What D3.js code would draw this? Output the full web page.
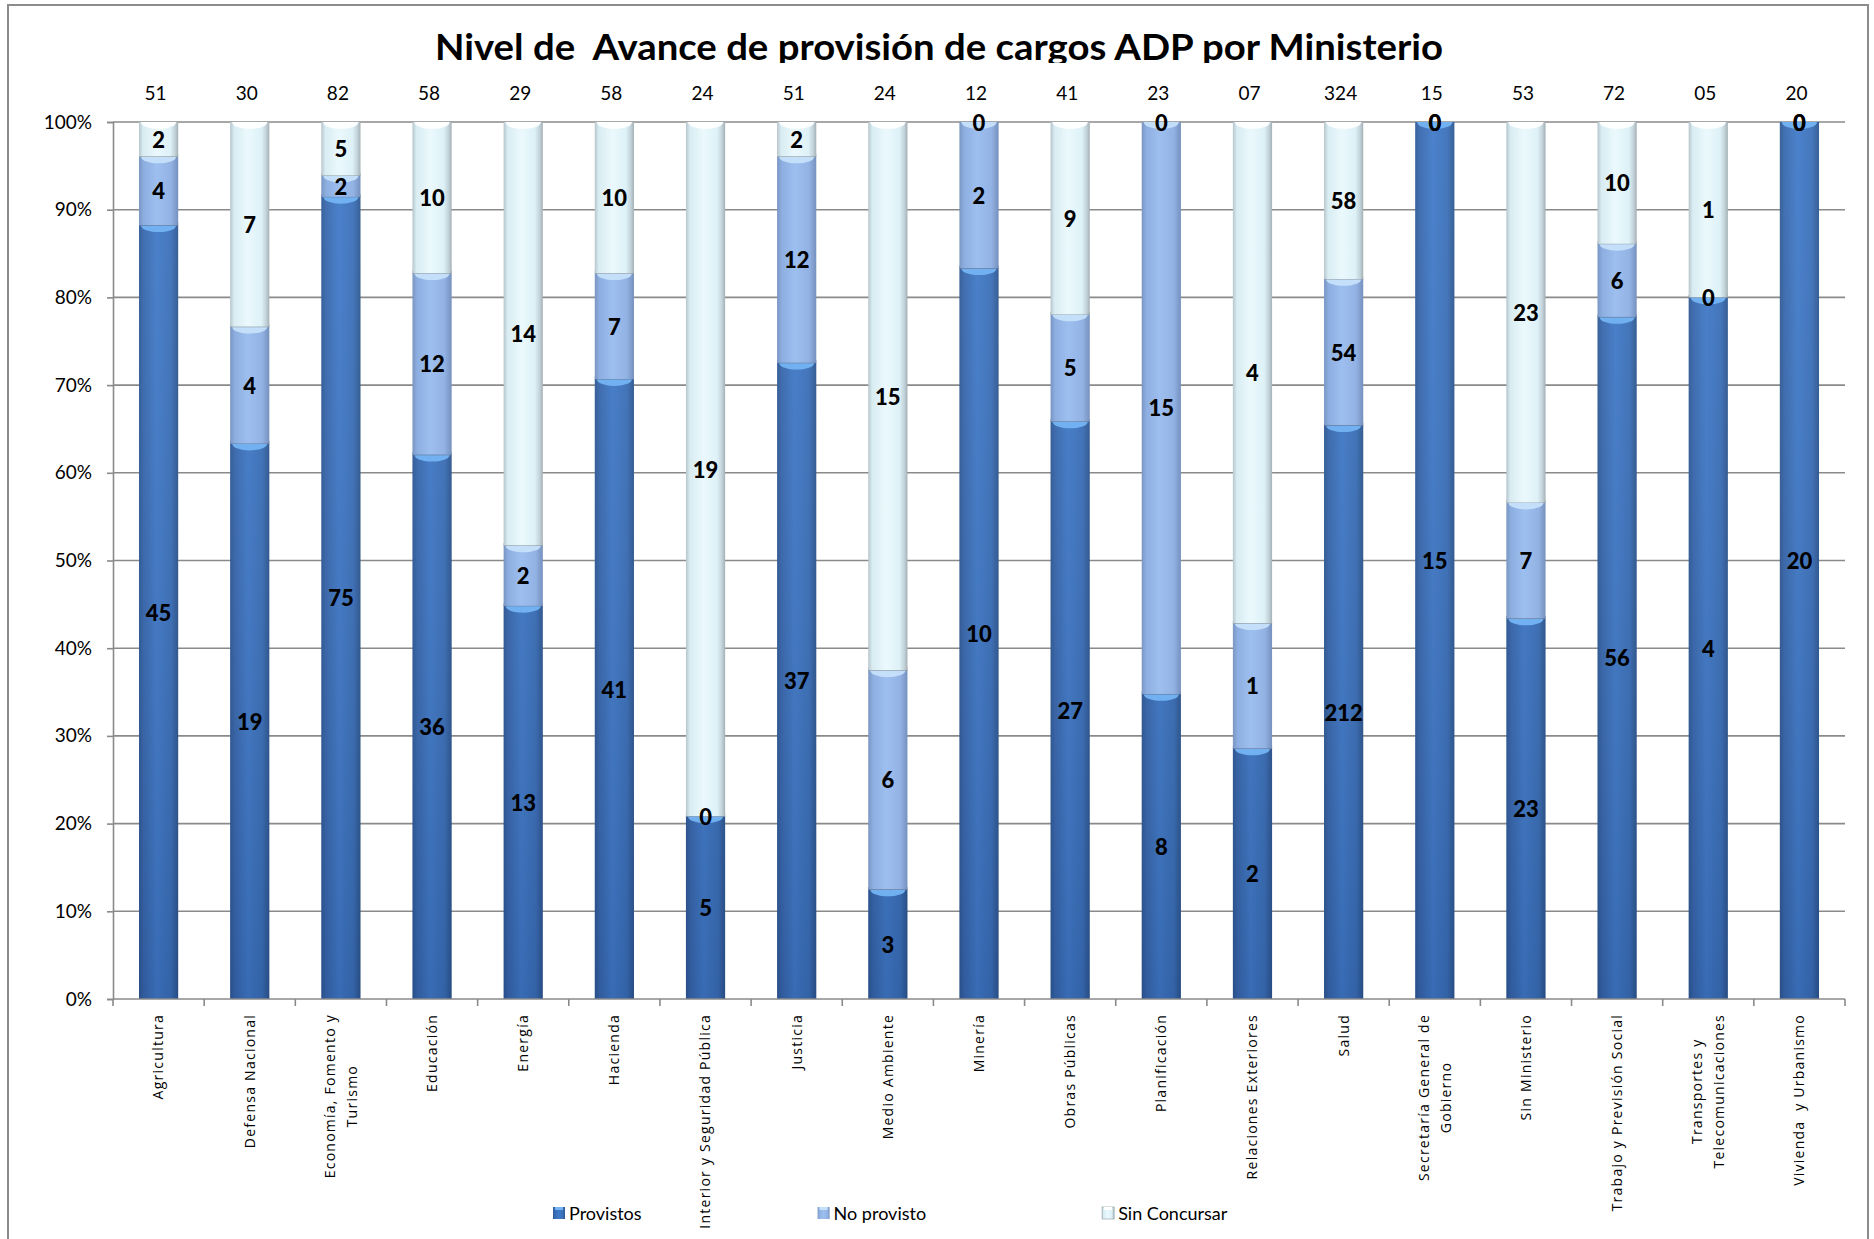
<!DOCTYPE html>
<html>
<head>
<meta charset="utf-8">
<script src="https://cdn.jsdelivr.net/npm/d3@7"></script>
<style>
  html, body { margin: 0; padding: 0; background: #fff; }
  svg text { white-space: pre; }
</style>
</head>
<body>
<svg id="chart" width="1874" height="1239"></svg>
<script>
// ---------- data ----------
const title = "Nivel de  Avance de provisión de cargos ADP por Ministerio";
const categories = [
  "Agricultura", "Defensa Nacional", "Economía, Fomento y\nTurismo", "Educación",
  "Energía", "Hacienda", "Interior y Seguridad Pública", "Justicia", "Medio Ambiente",
  "Minería", "Obras Públicas", "Planificación", "Relaciones Exteriores", "Salud",
  "Secretaría General de\nGobierno", "Sin Ministerio", "Trabajo y Previsión Social",
  "Transportes y\nTelecomunicaciones", "Vivienda  y Urbanismo"
];
const seriesNames = ["Provistos", "No provisto", "Sin Concursar"];
const provistos    = [45, 19, 75, 36, 13, 41, 5, 37, 3, 10, 27, 8, 2, 212, 15, 23, 56, 4, 20];
const noProvisto   = [4, 4, 2, 12, 2, 7, 0, 12, 6, 2, 5, 15, 1, 54, 0, 7, 6, 0, 0];
const sinConcursar = [2, 7, 5, 10, 14, 10, 19, 2, 15, 0, 9, 0, 4, 58, 0, 23, 10, 1, 0];
const totalLabels  = ["51","30","82","58","29","58","24","51","24","12","41","23","07","324","15","53","72","05","20"];
const yTicks = [0, 0.1, 0.2, 0.3, 0.4, 0.5, 0.6, 0.7, 0.8, 0.9, 1.0];

// ---------- layout ----------
const svg = d3.select("#chart");
const M = { left: 113, right: 1845, top: 122, bottom: 999 };
const serif = "Lato, 'Open Sans', sans-serif";
const gridColor = "#8a8a8a";

const rows = categories.map((c, i) => ({
  cat: c,
  "Provistos": provistos[i],
  "No provisto": noProvisto[i],
  "Sin Concursar": sinConcursar[i]
}));
const stack = d3.stack().keys(seriesNames).offset(d3.stackOffsetExpand);
const stacked = stack(rows);

const x = d3.scaleBand().domain(categories).range([M.left, M.right])
  .paddingInner(0.57).paddingOuter(0.285);
const y = d3.scaleLinear().domain([0, 1]).range([M.bottom, M.top]);

// ---------- outer border ----------
svg.append("rect").attr("x", 8).attr("y", 5).attr("width", 1860).attr("height", 1260)
  .attr("fill", "#fff").attr("stroke", "#8c8c8c").attr("stroke-width", 2);

// ---------- gradients ----------
const defs = svg.append("defs");
const grads = {
  "Provistos": [[0, "#2d5995"], [0.12, "#3767ad"], [0.45, "#3f7ac8"], [0.82, "#3a6fb8"], [1, "#2c568f"]],
  "No provisto": [[0, "#7a96c2"], [0.12, "#8daee0"], [0.45, "#9dbfef"], [0.82, "#92b2e3"], [1, "#7590bd"]],
  "Sin Concursar": [[0, "#b6c5cb"], [0.1, "#d8ecf2"], [0.45, "#ebf9fd"], [0.8, "#ddf1f7"], [0.92, "#c2d2d8"], [1, "#a3b0b5"]]
};
const capColors = { "Provistos": "#74b4f3", "No provisto": "#c6e0fa", "Sin Concursar": "#ffffff" };
seriesNames.forEach((s, i) => {
  const g = defs.append("linearGradient").attr("id", "g" + i)
    .attr("x1", 0).attr("x2", 1).attr("y1", 0).attr("y2", 0);
  grads[s].forEach(([o, c]) => g.append("stop").attr("offset", o).attr("stop-color", c));
});
const vg = defs.append("linearGradient").attr("id", "vshade")
  .attr("gradientUnits", "userSpaceOnUse").attr("x1", 0).attr("x2", 0)
  .attr("y1", M.top).attr("y2", M.bottom);
vg.append("stop").attr("offset", 0).attr("stop-color", "#ffffff").attr("stop-opacity", 0.06);
vg.append("stop").attr("offset", 1).attr("stop-color", "#000020").attr("stop-opacity", 0.12);

// ---------- title (clipped at bottom like the reference) ----------
defs.append("clipPath").attr("id", "titleClip").append("rect")
  .attr("x", 0).attr("y", 0).attr("width", 1874).attr("height", 63);
svg.append("text").attr("clip-path", "url(#titleClip)")
  .attr("x", 939).attr("y", 60).attr("text-anchor", "middle")
  .attr("font-family", serif).attr("font-weight", "bold").attr("font-size", 36)
  .attr("textLength", 1008).attr("lengthAdjust", "spacingAndGlyphs")
  .attr("fill", "#000").text(title);

// ---------- gridlines ----------
svg.append("g").selectAll("line").data(yTicks.filter(t => t > 0)).join("line")
  .attr("x1", M.left).attr("x2", M.right)
  .attr("y1", d => y(d)).attr("y2", d => y(d))
  .attr("stroke", gridColor).attr("stroke-width", 1.6);

// ---------- y axis ----------
const yAxis = svg.append("g").attr("transform", `translate(${M.left},0)`)
  .call(d3.axisLeft(y).tickValues(yTicks).tickFormat(d3.format(".0%")).tickSize(6).tickPadding(15));
yAxis.select(".domain").attr("stroke", gridColor).attr("stroke-width", 1.6);
yAxis.selectAll(".tick line").attr("stroke", gridColor).attr("stroke-width", 1.6);
yAxis.selectAll(".tick text").attr("font-family", serif).attr("font-size", 19).attr("fill", "#000");

// ---------- bars ----------
const bw = x.bandwidth();
const barG = svg.append("g");
stacked.forEach((ser, si) => {
  const s = seriesNames[si];
  ser.forEach((d, i) => {
    const x0 = x(categories[i]);
    const yt = y(d[1]), yb = y(d[0]);
    const h = yb - yt;
    if (h <= 0.01) return;
    const g = barG.append("g");
    g.append("rect").attr("x", x0).attr("y", yt).attr("width", bw).attr("height", h)
      .attr("fill", `url(#g${si})`);
    if (si === 0) {
      g.append("rect").attr("x", x0).attr("y", yt).attr("width", bw).attr("height", h)
        .attr("fill", "url(#vshade)");
    }
    const capD = Math.min(7, h);
    g.append("path")
      .attr("d", `M${x0 + 2},${yt} C${x0 + 2},${yt + capD * 1.3} ${x0 + bw - 2},${yt + capD * 1.3} ${x0 + bw - 2},${yt} Z`)
      .attr("fill", capColors[s]).attr("opacity", 0.95);
    if (d[1] < 0.9999) {
      g.append("line").attr("x1", x0).attr("x2", x0 + bw)
        .attr("y1", yt - 1).attr("y2", yt - 1)
        .attr("stroke", si === 0 ? "#5f7496" : "#8d9aa3").attr("stroke-width", 3);
    }
  });
});

// ---------- data labels ----------
const values = [provistos, noProvisto, sinConcursar];
const labG = svg.append("g");
stacked.forEach((ser, si) => {
  ser.forEach((d, i) => {
    labG.append("text")
      .attr("x", x(categories[i]) + bw / 2)
      .attr("y", y((d[0] + d[1]) / 2))
      .attr("text-anchor", "middle").attr("dominant-baseline", "central")
      .attr("font-family", serif).attr("font-weight", 900).attr("font-size", 22)
      .attr("fill", "#000").text(values[si][i]);
  });
});

// ---------- totals above bars ----------
svg.append("g").selectAll("text").data(categories).join("text")
  .attr("x", d => x(d) + bw / 2 - 3).attr("y", 92)
  .attr("text-anchor", "middle").attr("dominant-baseline", "central")
  .attr("font-family", serif).attr("font-size", 19).attr("fill", "#000")
  .text((d, i) => totalLabels[i]);

// ---------- x axis ----------
const xAxisG = svg.append("g");
xAxisG.append("line").attr("x1", M.left).attr("x2", M.right)
  .attr("y1", M.bottom).attr("y2", M.bottom)
  .attr("stroke", gridColor).attr("stroke-width", 1.6);
const step = x.step();
const boundaries = d3.range(categories.length + 1).map(i => M.left + i * step);
xAxisG.selectAll("line.tk").data(boundaries).join("line").attr("class", "tk")
  .attr("x1", d => d).attr("x2", d => d).attr("y1", M.bottom).attr("y2", M.bottom + 7)
  .attr("stroke", gridColor).attr("stroke-width", 1.6);

const lineH = 22;
categories.forEach(c => {
  const lines = c.split("\n");
  const cx = x(c) + bw / 2;
  const g = xAxisG.append("g").attr("transform", `translate(${cx},${M.bottom + 15}) rotate(-90)`);
  const texts = lines.map((ln, li) => g.append("text")
    .attr("y", (li - (lines.length - 1) / 2) * lineH)
    .attr("dy", "0.35em")
    .attr("font-family", "'Open Sans', sans-serif").attr("font-size", 14)
    .attr("letter-spacing", "1.25px").attr("fill", "#000").text(ln));
  const maxLen = d3.max(texts, t => t.node().getComputedTextLength());
  texts.forEach(t => t.attr("text-anchor", "middle").attr("x", -maxLen / 2));
});

// ---------- legend ----------
const legG = svg.append("g");
let lx = 553;
const ly = 1213;
seriesNames.forEach((s, si) => {
  legG.append("rect").attr("x", lx).attr("y", ly - 6).attr("width", 12).attr("height", 12)
    .attr("fill", `url(#g${si})`).attr("stroke", si === 2 ? "#a3b0b5" : "none").attr("stroke-width", 0.8);
  legG.append("rect").attr("x", lx + 2).attr("y", ly - 6).attr("width", 8).attr("height", 3)
    .attr("fill", capColors[s]);
  const t = legG.append("text").attr("x", lx + 16).attr("y", ly).attr("dominant-baseline", "central")
    .attr("font-family", serif).attr("font-size", 18).attr("fill", "#000").text(s);
  lx += 16 + t.node().getComputedTextLength() + 176;
});
</script>
</body>
</html>
